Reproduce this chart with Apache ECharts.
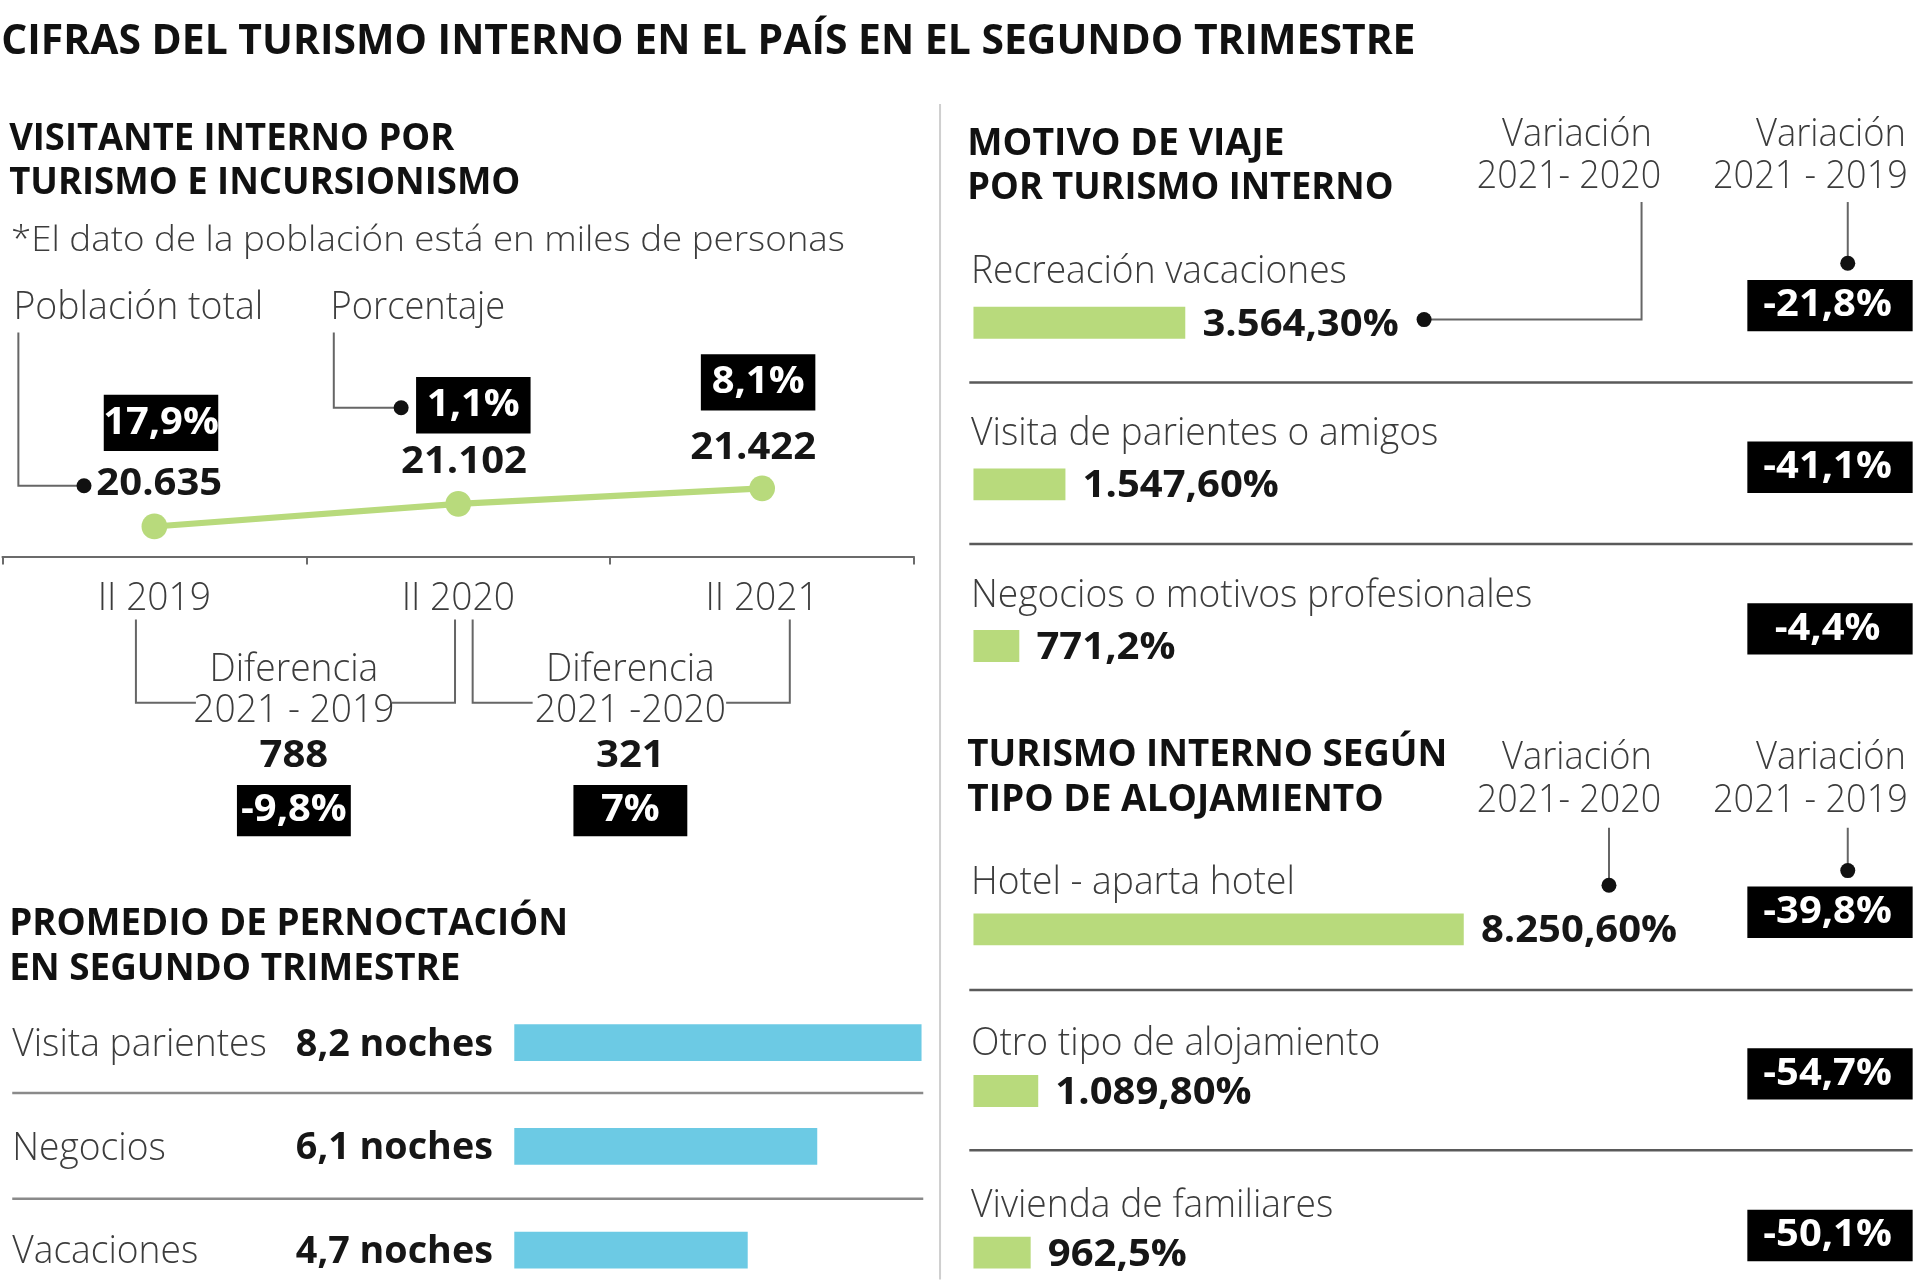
<!DOCTYPE html>
<html><head><meta charset="utf-8">
<script src="https://cdn.jsdelivr.net/npm/echarts@6/dist/echarts.min.js"></script>
<style>html,body{margin:0;padding:0;background:#fff}#c{width:1920px;height:1280px}</style>
</head><body><div id="c"></div>
<script>
// ---------------- DATA ----------------
const periods = ['II 2019', 'II 2020', 'II 2021'];
const population = [20635, 21102, 21422];          // miles de personas
const populationPct = [17.9, 1.1, 8.1];
const diffTitles = ['2021 - 2019', '2021 -2020'];
const diffValues = [788, 321];
const diffPct = [-9.8, 7];
const stayCategories = ['Visita parientes', 'Negocios', 'Vacaciones'];
const stayNights = [8.2, 6.1, 4.7];
const tripCategories = ['Recreación vacaciones', 'Visita de parientes o amigos', 'Negocios o motivos profesionales'];
const tripVar2020 = [3564.30, 1547.60, 771.2];
const tripVar2020Labels = ['3.564,30%', '1.547,60%', '771,2%'];
const tripVar2019 = [-21.8, -41.1, -4.4];
const lodgeCategories = ['Hotel - aparta hotel', 'Otro tipo de alojamiento', 'Vivienda de familiares'];
const lodgeVar2020 = [8250.60, 1089.80, 962.5];
const lodgeVar2020Labels = ['8.250,60%', '1.089,80%', '962,5%'];
const lodgeVar2019 = [-39.8, -54.7, -50.1];

// ---------------- LAYOUT ----------------
const S = 1920 / 1568;
const p = v => v * S;
const TY = p(2);   // small vertical text correction
const GREEN = '#b8da7c', BLUE = '#6ccae4';
const DARK = '#161616', REGC = '#3c3c3c', GRAYL = '#666';
const FF = '"Open Sans", "Noto Sans", sans-serif';
const LIGHT = 300;
const popLabelOffset = [[4, -36], [4.7, -36], [-7.3, -34.5]];
const popBoxOffset = [[5.4, -84.5], [12.3, -80.5], [-3.3, -86.5]];
const diffCenters = [240, 514.8];

const fmtThousands = v => String(v).replace(/\B(?=(\d{3})+(?!\d))/g, '.');
const fmtPct = v => String(v).replace('.', ',') + '%';
const fmtNights = v => v.toFixed(1).replace('.', ',') + ' noches';

const chart = echarts.init(document.getElementById('c'), null, {width: 1920, height: 1280});
chart.setOption({
  backgroundColor: '#fff',
  animation: false,
  grid: [
    {left: p(2), top: p(376), width: p(744.5), height: p(79)},
    {left: p(795), top: p(263.6), width: p(485.3), height: p(264)},
    {left: p(795), top: p(759), width: p(485.3), height: p(264)},
    {left: p(420), top: p(851.5), width: p(405.6), height: p(169.5)}
  ],
  xAxis: [
    {gridIndex: 0, type: 'category', data: periods, boundaryGap: true,
     axisLine: {lineStyle: {color: '#6b6b6b', width: 2}},
     axisTick: {show: true, length: p(6), lineStyle: {color: '#6b6b6b', width: 2}},
     axisLabel: {show: false}, splitLine: {show: false}},
    {gridIndex: 1, type: 'value', min: 0, max: 10000, show: false},
    {gridIndex: 2, type: 'value', min: 0, max: 10000, show: false},
    {gridIndex: 3, type: 'value', min: 0, max: 10, show: false}
  ],
  yAxis: [
    {gridIndex: 0, type: 'value', min: 20000, max: 22000, show: false},
    {gridIndex: 1, type: 'category', data: tripCategories, inverse: true, boundaryGap: false, show: false},
    {gridIndex: 2, type: 'category', data: lodgeCategories, inverse: true, boundaryGap: false, show: false},
    {gridIndex: 3, type: 'category', data: stayCategories, inverse: true, boundaryGap: false, show: false}
  ],
  series: [
    {type: 'line', xAxisIndex: 0, yAxisIndex: 0, data: population, symbol: 'circle', symbolSize: p(21),
     lineStyle: {color: GREEN, width: p(5)}, itemStyle: {color: GREEN}, z: 3},
    {type: 'bar', xAxisIndex: 1, yAxisIndex: 1, data: tripVar2020, barWidth: p(26), itemStyle: {color: GREEN}},
    {type: 'bar', xAxisIndex: 2, yAxisIndex: 2, data: lodgeVar2020, barWidth: p(26), itemStyle: {color: GREEN}},
    {type: 'bar', xAxisIndex: 3, yAxisIndex: 3, data: stayNights, barWidth: p(30), itemStyle: {color: BLUE}}
  ]
});

// ---------------- TEXT & DECORATION ----------------
const ctx = document.createElement('canvas').getContext('2d');
const wt = b => (b === true ? 'bold' : (b === false ? LIGHT : b));
function measure(t, size, bold) { ctx.font = wt(bold) + ' ' + size + 'px ' + FF; return ctx.measureText(t).width; }
function fitScale(t, size, bold, targetPx) { return targetPx / measure(t, size, bold); }
const g = [];
function addText(t, x, y, size, bold, color, align, sx) {
  g.push({type: 'text', x: x, y: y + TY, scaleX: sx, z: 20, silent: true,
    style: {text: t, fill: color, fontSize: size, fontFamily: FF, fontWeight: wt(bold),
            align: align, verticalAlign: 'middle', textAlign: align, textVerticalAlign: 'middle'}});
}
function addFit(t, x0, x1, yc, size, bold, color) {
  addText(t, p(x0), p(yc), size, bold, color, 'left', fitScale(t, size, bold, p(x1 - x0)));
}
function line(pts, color, w) {
  g.push({type: 'polyline', z: 5, silent: true, shape: {points: pts.map(q => [p(q[0]), p(q[1])])}, style: {stroke: color, lineWidth: w}});
}
function dot(x, y) { g.push({type: 'circle', z: 6, silent: true, shape: {cx: p(x), cy: p(y), r: 7.5}, style: {fill: '#111'}}); }
function rectPx(x, y, w, h, fill) { g.push({type: 'rect', z: 15, silent: true, shape: {x: x, y: y, width: w, height: h}, style: {fill: fill}}); }

const REG = fitScale('Recreación vacaciones', 38, false, p(307));
const VAL = fitScale('3.564,30%', 37, true, p(160.3));
const NIGHT = fitScale('8,2 noches', 37, true, p(161));
const BOX = fitScale('-21,8%', 38, true, p(105));

// headers
addFit('CIFRAS DEL TURISMO INTERNO EN EL PAÍS EN EL SEGUNDO TRIMESTRE', 1, 1156, 32.7, 42, true, '#111');
addFit('VISITANTE INTERNO POR', 7.5, 371, 111.7, 38, true, '#111');
addFit('TURISMO E INCURSIONISMO', 7.5, 425, 147.5, 38, true, '#111');
addFit('*El dato de la población está en miles de personas', 9, 690, 195, 34, false, REGC);
addFit('Población total', 11, 215, 250, 38, false, REGC);
addFit('Porcentaje', 270, 412.6, 250, 38, false, REGC);
addFit('PROMEDIO DE PERNOCTACIÓN', 7.5, 464, 753.3, 37, true, '#111');
addFit('EN SEGUNDO TRIMESTRE', 7.5, 376, 789.6, 37, true, '#111');
addFit('MOTIVO DE VIAJE', 790, 1049, 116, 37, true, '#111');
addFit('POR TURISMO INTERNO', 790, 1138, 151.7, 37, true, '#111');
addFit('TURISMO INTERNO SEGÚN', 790, 1182, 615, 37, true, '#111');
addFit('TIPO DE ALOJAMIENTO', 790, 1130, 652, 37, true, '#111');
[[108, 142.5], [617, 652]].forEach(([y1, y2]) => {
  addFit('Variación', 1226.7, 1349, y1, 38, false, REGC);
  addFit('2021- 2020', 1206, 1356.6, y2, 38, false, REGC);
  addFit('Variación', 1434, 1556.6, y1, 38, false, REGC);
  addFit('2021 - 2019', 1399, 1558, y2, 38, false, REGC);
});

// divider and separators
line([[767.7, 85], [767.7, 1045]], '#cfcfcf', 2);
[312.3, 444.3, 808.6, 939.3].forEach(y => line([[791.6, y], [1562, y]], '#5a5a5a', 2.5));
[892.6, 979].forEach(y => line([[10, y], [754, y]], '#8a8a8a', 2.5));

// leaders
line([[15, 271.6], [15, 396.7], [68.6, 396.7]], GRAYL, 2); dot(68.6, 396.7);
line([[272.6, 271.6], [272.6, 333], [327.6, 333]], GRAYL, 2); dot(327.6, 333);
line([[1163, 261], [1340.6, 261], [1340.6, 165]], GRAYL, 2); dot(1163, 261);
line([[1509, 165], [1509, 215]], GRAYL, 2); dot(1509, 215);
line([[1314, 676], [1314, 723]], GRAYL, 2); dot(1314, 723);
line([[1509, 676], [1509, 711]], GRAYL, 2); dot(1509, 711);

// brackets for differences
line([[111, 506], [111, 574], [160, 574]], GRAYL, 2);
line([[320, 574], [371.6, 574], [371.6, 506]], GRAYL, 2);
line([[386, 506], [386, 574], [435, 574]], GRAYL, 2);
line([[593, 574], [645, 574], [645, 506]], GRAYL, 2);

// line chart labels
population.forEach((v, i) => {
  const [px, py] = chart.convertToPixel({gridIndex: 0}, [i, v]);
  const o = popLabelOffset[i];
  addText(fmtThousands(v), px + p(o[0]), py + p(o[1]), 37, true, DARK, 'center', VAL);
  const b = popBoxOffset[i];
  const cx = px + p(b[0]), cy = py + p(b[1]);
  rectPx(cx - p(46.75), cy - p(23), p(93.5), p(46), '#000');
  addText(fmtPct(populationPct[i]), cx, cy - TY, 38, true, '#fff', 'center', BOX);
  addText(periods[i], px, p(487), 38, false, REGC, 'center', REG);
});

// differences
diffValues.forEach((v, i) => {
  const cx = p(diffCenters[i]);
  addText('Diferencia', cx, p(545), 38, false, REGC, 'center', REG);
  addText(diffTitles[i], cx, p(579), 38, false, REGC, 'center', REG);
  addText(fmtThousands(v), cx, p(616), 37, true, DARK, 'center', VAL);
  rectPx(cx - p(46.5), p(641), p(93), p(42), '#000');
  addText(fmtPct(diffPct[i]), cx, p(662) - TY, 38, true, '#fff', 'center', BOX);
});

// stay rows
stayNights.forEach((v, i) => {
  const [, py] = chart.convertToPixel({gridIndex: 3}, [v, i]);
  addText(stayCategories[i], p(10), py, 38, false, REGC, 'left', REG);
  addText(fmtNights(v), p(402.6), py, 37, true, DARK, 'right', NIGHT);
});

// trip & lodge rows
function rows(grid, cats, vals, labels, var19, labelDy) {
  vals.forEach((v, i) => {
    const [px, py] = chart.convertToPixel({gridIndex: grid}, [v, i]);
    addText(cats[i], p(793), py + p(labelDy), 38, false, REGC, 'left', REG);
    addText(labels[i], px + p(14), py, 37, true, DARK, 'left', VAL);
    const cy = py - p(14);
    rectPx(p(1427), cy - p(21), p(135), p(42), '#000');
    addText(fmtPct(var19[i]), p(1492.5), cy - TY, 38, true, '#fff', 'center', BOX);
  });
}
rows(1, tripCategories, tripVar2020, tripVar2020Labels, tripVar2019, -43);
rows(2, lodgeCategories, lodgeVar2020, lodgeVar2020Labels, lodgeVar2019, -40);

chart.setOption({graphic: {elements: g}});
</script></body></html>
